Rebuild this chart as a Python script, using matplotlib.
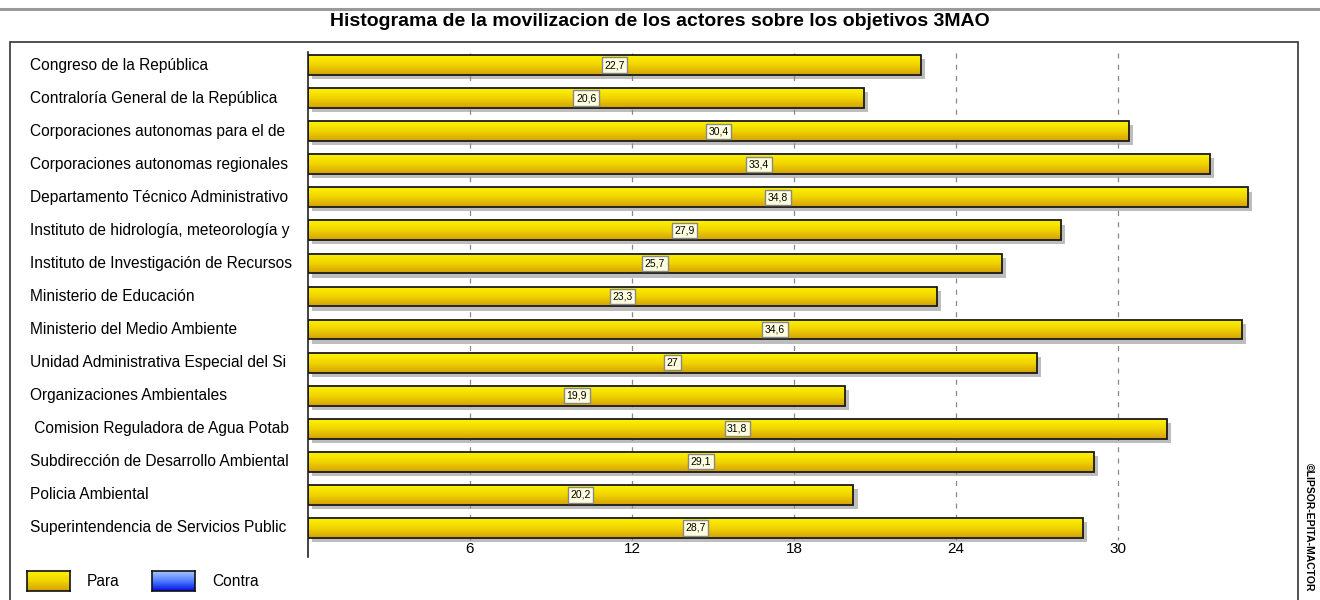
import numpy as np
import matplotlib
matplotlib.use('Agg')
import matplotlib.pyplot as plt
from matplotlib.colors import LinearSegmentedColormap
from matplotlib.patches import Rectangle
from matplotlib.lines import Line2D
import matplotlib.patheffects as pe
import matplotlib.transforms as mtrans

plt.rcParams['font.family'] = ['Liberation Sans', 'DejaVu Sans']

actores = [
    'Congreso de la República',
    'Contraloría General de la República',
    'Corporaciones autonomas para el de',
    'Corporaciones autonomas regionales',
    'Departamento Técnico Administrativo',
    'Instituto de hidrología, meteorología y',
    'Instituto de Investigación de Recursos',
    'Ministerio de Educación',
    'Ministerio del Medio Ambiente',
    'Unidad Administrativa Especial del Si',
    'Organizaciones Ambientales',
    ' Comision Reguladora de Agua Potab',
    'Subdirección de Desarrollo Ambiental',
    'Policia Ambiental',
    'Superintendencia de Servicios Public',
]
para = [22.7, 20.6, 30.4, 33.4, 34.8, 27.9, 25.7, 23.3, 34.6, 27.0,
        19.9, 31.8, 29.1, 20.2, 28.7]
xticks = [6, 12, 18, 24, 30]
legend_labels = ['Para', 'Contra']

W, H = 1320, 600
fig = plt.figure(figsize=(W / 100, H / 100), dpi=100)

def px(x0, y0, x1, y1):
    # pixel box -> figure fraction [left, bottom, width, height]
    return [x0 / W, 1 - y1 / H, (x1 - x0) / W, (y1 - y0) / H]

yellow = LinearSegmentedColormap.from_list('yel', ['#FFF300', '#F0D400', '#D4A008'])
blue = LinearSegmentedColormap.from_list('blu', ['#A8C4FF', '#4F7DFF', '#0010E8'])
grad = np.linspace(0, 1, 64).reshape(-1, 1)

# top grey line and outer frame
fig.add_artist(Line2D([0, 1], [1 - 9 / H, 1 - 9 / H], color='#9a9a9a', lw=2.2))
fig.add_artist(Rectangle((10 / W, -0.05), (1298 - 10) / W, 1.05 - 42 / H, transform=fig.transFigure,
                         fill=False, edgecolor='#333333', lw=1.2))
fig.text(660 / W, 1 - 22 / H, 'Histograma de la movilizacion de los actores sobre los objetivos 3MAO',
         ha='center', va='center', fontsize=14, fontweight='bold')
fig.text(1309 / W, 1 - 527 / H, '©LIPSOR-EPITA-MACTOR', rotation=-90, ha='center', va='center',
         fontsize=7.5, fontweight='bold')

ax = fig.add_axes(px(308, 52, 1300, 557))
ypos = np.arange(len(actores))
h = 0.6

for sp in ['top', 'right', 'bottom']:
    ax.spines[sp].set_visible(False)
ax.spines['left'].set_color('#222222')
ax.spines['left'].set_linewidth(1.2)
ax.set_xticks([])
ax.set_yticks([])

ax.vlines(xticks, -0.35, 14.35, colors='#888888', linestyles=(0, (4, 5)), lw=0.9, zorder=1)

for y, v in zip(ypos, para):
    bar = Rectangle((0, y - h / 2), v, h, facecolor='#E8C800', edgecolor='none', zorder=2,
                    path_effects=[pe.SimplePatchShadow(offset=(3, -3), shadow_rgbFace='#888888', alpha=0.55),
                                  pe.Normal()])
    ax.add_patch(bar)
    im = ax.imshow(grad, extent=[0, v, y + h / 2, y - h / 2], aspect='auto', cmap=yellow, zorder=2.5)
    im.set_clip_path(bar)
    ax.add_patch(Rectangle((0, y - h / 2), v, h, fill=False, edgecolor='#1a1a1a', lw=1.3, zorder=3))
    ax.text(v / 2, y, f'{v:g}'.replace('.', ','), ha='center', va='center', fontsize=7.5, zorder=4,
            bbox=dict(boxstyle='square,pad=0.25', facecolor='#FFFFE0', edgecolor='#888888', lw=1.0))

ax.set_xlim(0, (1300 - 308) / 27)
ax.set_ylim(14 + 29 / 33.07, -13 / 33.07)

for t in xticks:
    ax.text(t, 14.62, str(t), ha='center', va='center', fontsize=11)

tr = mtrans.blended_transform_factory(fig.transFigure, ax.transData)
for y, name in zip(ypos, actores):
    ax.text(30 / W, y, name, transform=tr, ha='left', va='center', fontsize=11.2, clip_on=False)

# legend
for (x0, cm), lab in zip([(27, yellow), (152, blue)], legend_labels):
    lax = fig.add_axes(px(x0, 571, x0 + 43, 591))
    lax.imshow(grad, aspect='auto', cmap=cm, extent=[0, 1, 0, 1])
    lax.set_xticks([])
    lax.set_yticks([])
    for sp in lax.spines.values():
        sp.set_linewidth(1.2)
        sp.set_color('#111111')
    fig.text((x0 + 60) / W, 1 - 581 / H, lab, ha='left', va='center', fontsize=11.2)

fig.savefig('out.png', dpi=100)
